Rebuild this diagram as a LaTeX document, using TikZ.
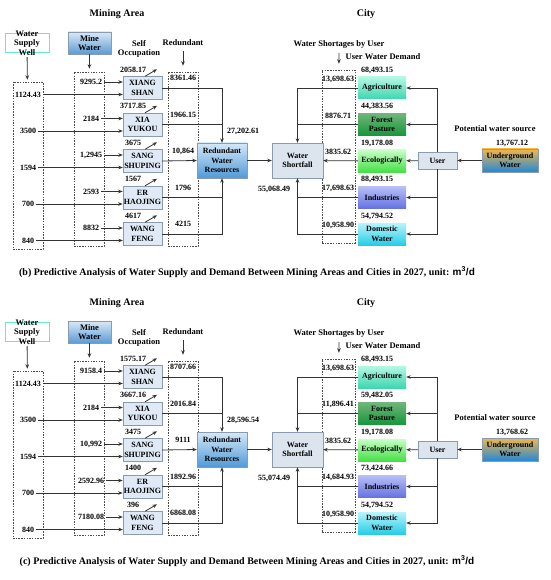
\documentclass[tikz,border=0pt]{standalone}
\usepackage{fontspec}
\setmainfont{Liberation Serif}
\newfontfamily\unitfont{Liberation Sans}
\usetikzlibrary{arrows.meta, positioning, calc}

\definecolor{sitefill}{HTML}{DFEAF6}
\definecolor{boxline}{HTML}{8A9BB0}
\definecolor{wsfill}{HTML}{DCE4EE}
\definecolor{wellline}{HTML}{66EBD0}
\definecolor{mineT}{HTML}{D9E9F7}
\definecolor{mineB}{HTML}{5B9BD5}
\definecolor{rwrT}{HTML}{D5E8F7}
\definecolor{rwrB}{HTML}{4F9AD8}
\definecolor{ugT}{HTML}{F2B64A}
\definecolor{ugB}{HTML}{2188D8}
\definecolor{agriT}{HTML}{B4F8E4}
\definecolor{agriB}{HTML}{3ED6B0}
\definecolor{forT}{HTML}{6FB57A}
\definecolor{forB}{HTML}{17973A}
\definecolor{ecoT}{HTML}{C8FEC8}
\definecolor{ecoB}{HTML}{45E045}
\definecolor{indT}{HTML}{B8BEF6}
\definecolor{indB}{HTML}{6472E2}
\definecolor{domT}{HTML}{B8F4FC}
\definecolor{domB}{HTML}{26CDE6}

% one panel: #1 y offset, #2 mining rows, #3 city rows,
% #4 total redundant, #5 total shortfall, #6 potential source, #7 caption
\newcommand{\waterpanel}[7]{%
\begin{scope}[shift={(0,#1)}]
    % 1. Titles and column headers
    \node (minetitle) [title] at (117,14) {Mining Area};
    \node (citytitle) [title] at (366,14) {City};
    \node (wellbox) [box, draw=wellline, line width=0.8pt, fill=white, minimum width=44pt, inner ysep=-2.5pt, font=\bfseries\fontsize{8.5}{9.5}\selectfont] at (27,43) {Water\\Supply\\Well};
    \node (minebox) [box, top color=mineT, bottom color=mineB, minimum width=43pt, minimum height=22pt, font=\bfseries\fontsize{8.5}{9.5}\selectfont] at (89.5,43) {Mine\\Water};
    \node (selftitle) [head] at (139,49) {Self\\Occupation};
    \node (redtitle) [head] at (183,43) {Redundant};
    \node (shorttitle) [head] at (339,44) {Water Shortages by User};
    \node (demtitle) [head] at (383,57) {User Water Demand};
    \node (pottitle) [head] at (495,129) {Potential water source};

    % 2. Dashed value columns
    \node (wellcol) [column, minimum width=30pt, minimum height=167pt] at (28,165.5) {};
    \node (minecol) [column, minimum width=30pt, minimum height=174pt] at (89,159) {};
    \node (redcol) [column, minimum width=30pt, minimum height=174pt] at (183,159) {};
    \node (shortcol) [column, minimum width=33pt, minimum height=173pt] at (338.5,156.5) {};

    \draw [arrow, shorten <=4pt, shorten >=2pt] (wellbox) -- (wellcol);
    \draw [arrow, shorten >=3pt] (minebox) -- (minecol);
    \draw [arrow, shorten <=4pt, shorten >=6pt] (redtitle) -- (redcol);
    \draw [arrow, shorten <=4pt, shorten >=6pt] (shorttitle) -- (shortcol);

    % 3. Mining sites
    \foreach \tp/\bt/\wv/\mv/\sv/\rv [count=\i from 0] in {#2} {
        \pgfmathsetmacro\ry{88+36.5*\i}
        \node (site\i) [site] at (142.5,\ry) {\tp\\\bt};
        \node (well\i) [lbl] at (28,\ry+6.5) {\wv};
        \node (mine\i) [lbl] at (91,\ry-6) {\mv};
        \node (self\i) [lbl] at (133,\ry-18.5) {\sv};
        \node (red\i) [lbl] at (183,\ry-10) {\rv};
        \draw [arrow] (well\i) -- (well\i -| site\i.west);
        \draw [arrow] (mine\i) -- (mine\i -| site\i.west);
        \draw [arrow] ([xshift=2.5pt]site\i.north) -- ++(12,-7);
    }

    % 4. Collection and shortfall
    \node (rwr) [box, top color=rwrT, bottom color=rwrB, minimum width=50pt, minimum height=35pt] at (222,160.5) {Redundant\\Water\\Resources};
    \node (ws) [box, fill=wsfill, minimum width=51pt, minimum height=35pt] at (297.5,160.5) {Water\\Shortfall};
    \node (redsum) [lbl] at (243,131) {#4};
    \node (wssum) [lbl] at (274,189) {#5};

    \draw [arrow] (site0.east) -| (rwr.north);
    \draw [link] (site1.east) -- (site1.east -| rwr.north);
    \draw [arrow] (site2.east) -- (rwr.west);
    \draw [link] (site3.east) -- (site3.east -| rwr.south);
    \draw [arrow] (site4.east) -| (rwr.south);
    \draw [arrow] (rwr) -- (ws);

    % 5. City users
    \foreach \txt/\tc/\bc/\dv/\sv [count=\i from 0] in {#3} {
        \pgfmathsetmacro\ry{88+36.5*\i}
        \node (use\i) [city, top color=\tc, bottom color=\bc] at (382,\ry) {\txt};
        \node (dem\i) [lbl] at (377,\ry-18) {\dv};
        \node (short\i) [lbl] at (338,\ry-9) {\sv};
    }
    \node (user) [box, fill=wsfill, minimum width=39pt, minimum height=17pt] at (437.5,160.5) {User};
    \node (ug) [box, top color=ugT, bottom color=ugB, minimum width=56pt, minimum height=23pt] at (510,160.5) {Underground\\Water};
    \node (potval) [lbl] at (512,143) {#6};

    \draw [arrow] (use0.west) -| (ws.north);
    \draw [link] (use1.west) -- (use1.west -| ws.north);
    \draw [arrow] (use2) -- (ws);
    \draw [link] (use3.west) -- (use3.west -| ws.south);
    \draw [arrow] (use4.west) -| (ws.south);

    \draw [arrow] (user.north) |- (use0.east);
    \draw [arrow] (user.north |- use1.east) -- (use1.east);
    \draw [arrow] (user) -- (use2);
    \draw [arrow] (user.south |- use3.east) -- (use3.east);
    \draw [arrow] (user.south) |- (use4.east);
    \draw [arrow] (ug) -- (user);

    % 6. Caption
    \node (caption) [head, font=\bfseries\fontsize{10}{12}\selectfont] at (247,272) {#7};
\end{scope}}

\begin{document}
\begin{tikzpicture}[x=1pt, y=-1pt,
        lbl/.style={font=\bfseries\fontsize{8}{9}\selectfont, inner sep=2pt},
        head/.style={font=\bfseries\fontsize{8.5}{9.5}\selectfont, align=center, inner sep=1pt},
        title/.style={font=\bfseries\fontsize{10}{12}\selectfont},
        box/.style={draw=boxline, align=center, font=\bfseries\fontsize{8}{9.5}\selectfont, inner sep=1pt},
        site/.style={box, fill=sitefill, minimum width=39pt, minimum height=23pt},
        city/.style={box, draw=none, minimum width=48pt, minimum height=22pt},
        column/.style={draw=black!70, dash pattern=on 1.5pt off 1.2pt, line width=0.5pt, inner sep=0pt},
        arrow/.style={-{Stealth[length=4.5pt,width=3.6pt]}, line width=0.8pt, draw=black!80},
        link/.style={line width=0.8pt, draw=black!80}
    ]
    \useasboundingbox (0,0) rectangle (550,580);

    % (b) 2027 prediction
    \waterpanel{0}
        {XIANG/SHAN/1124.43/9295.2/2058.17/8361.46,
         XIA/YUKOU/3500/2184/3717.85/1966.15,
         SANG/SHUPING/1594/1{,}2945/3675/10{,}864,
         ER/HAOJING/700/2593/1567/1796,
         WANG/FENG/840/8832/4617/4215}
        {Agriculture/agriT/agriB/68{,}493.15/13{,}698.63,
         Forest\\Pasture/forT/forB/44{,}383.56/8876.71,
         Ecologically/ecoT/ecoB/19{,}178.08/3835.62,
         Industries/indT/indB/88{,}493.15/17{,}698.63,
         Domestic\\Water/domT/domB/54{,}794.52/10{,}958.90}
        {27,202.61}{55,068.49}{13,767.12}
        {(b) Predictive Analysis of Water Supply and Demand Between Mining Areas and Cities in 2027, unit: {\unitfont m\textsuperscript{3}/d}}

    % (c) 2027 prediction
    \waterpanel{289}
        {XIANG/SHAN/1124.43/9158.4/1575.17/8707.66,
         XIA/YUKOU/3500/2184/3667.16/2016.84,
         SANG/SHUPING/1594/10{,}992/3475/9111,
         ER/HAOJING/700/2592.96/1400/1892.96,
         WANG/FENG/840/7180.08/396/6868.08}
        {Agriculture/agriT/agriB/68{,}493.15/13{,}698.63,
         Forest\\Pasture/forT/forB/59{,}482.05/11{,}896.41,
         Ecologically/ecoT/ecoB/19{,}178.08/3835.62,
         Industries/indT/indB/73{,}424.66/14{,}684.93,
         Domestic\\Water/domT/domB/54{,}794.52/10{,}958.90}
        {28,596.54}{55,074.49}{13,768.62}
        {(c) Predictive Analysis of Water Supply and Demand Between Mining Areas and Cities in 2027, unit: {\unitfont m\textsuperscript{3}/d}}
\end{tikzpicture}
\end{document}
